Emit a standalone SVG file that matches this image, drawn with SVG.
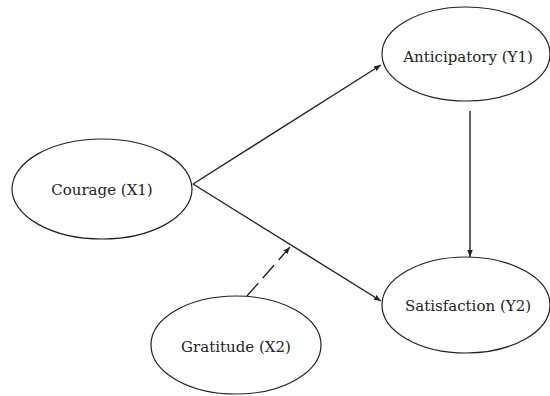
<svg xmlns="http://www.w3.org/2000/svg" width="550" height="396" viewBox="0 0 550 396">
<style>
.n ellipse{fill:#fff;stroke:#222;stroke-width:1.2}
.n text{font-family:'DejaVu Serif','Liberation Serif','Noto Serif',serif;font-size:15px;fill:#222;text-anchor:middle}
.c line{stroke:#222;stroke-width:1.4;fill:none}
</style>
<defs>
<marker id="a" viewBox="0 0 10 10" refX="10" refY="5" markerWidth="7" markerHeight="7" markerUnits="userSpaceOnUse" orient="auto">
<path d="M0,1 L10,5 L0,9 Z" fill="#222"/>
</marker>
</defs>
<rect width="550" height="396" fill="#fff"/>
<g class="c">
<line x1="193" y1="184" x2="381" y2="65" marker-end="url(#a)"/>
<line x1="193" y1="184" x2="381" y2="301" marker-end="url(#a)"/>
<line x1="470" y1="111" x2="470" y2="257" marker-end="url(#a)"/>
<line x1="247" y1="296" x2="290" y2="247" stroke-width="3" stroke-dasharray="17 7" marker-end="url(#a)"/>
</g>
<g id="courage" class="n"><ellipse cx="102" cy="189" rx="90" ry="50"/><text x="102" y="195">Courage (X1)</text></g>
<g id="anticipatory" class="n"><ellipse cx="466" cy="54" rx="84" ry="47"/><text x="468" y="62">Anticipatory (Y1)</text></g>
<g id="satisfaction" class="n"><ellipse cx="466" cy="305" rx="84" ry="48"/><text x="468" y="311">Satisfaction (Y2)</text></g>
<g id="gratitude" class="n"><ellipse cx="236" cy="345" rx="85" ry="49"/><text x="236" y="352">Gratitude (X2)</text></g>
</svg>
